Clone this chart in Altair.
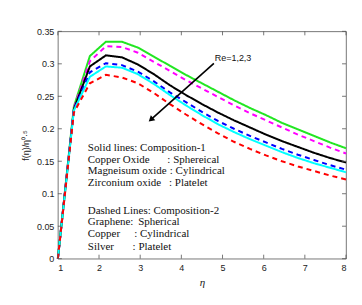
import altair as alt
import pandas as pd

eta = [1.0, 1.389, 1.778, 2.167, 2.556, 2.944, 3.333, 3.722, 4.111, 4.5,
       4.889, 5.278, 5.667, 6.056, 6.444, 6.833, 7.222, 7.611, 8.0]

green_solid = [0, 0.234, 0.312, 0.334, 0.334, 0.325, 0.311, 0.297, 0.283, 0.270,
               0.257, 0.244, 0.232, 0.221, 0.209, 0.199, 0.189, 0.179, 0.170]
magenta_dash = [0, 0.232, 0.304, 0.327, 0.326, 0.317, 0.303, 0.289, 0.275, 0.262,
                0.249, 0.236, 0.224, 0.213, 0.202, 0.191, 0.181, 0.171, 0.162]
black_solid = [0, 0.230, 0.296, 0.313, 0.310, 0.299, 0.284, 0.267, 0.252, 0.238,
               0.225, 0.213, 0.202, 0.191, 0.181, 0.172, 0.163, 0.155, 0.148]
blue_dash = [0, 0.229, 0.287, 0.301, 0.298, 0.288, 0.273, 0.256, 0.241, 0.226,
             0.212, 0.200, 0.189, 0.179, 0.169, 0.160, 0.152, 0.144, 0.137]
cyan_solid = [0, 0.228, 0.280, 0.296, 0.294, 0.284, 0.269, 0.252, 0.236, 0.221,
              0.207, 0.195, 0.184, 0.174, 0.164, 0.155, 0.147, 0.140, 0.133]
red_dash = [0, 0.225, 0.270, 0.283, 0.279, 0.270, 0.255, 0.238, 0.222, 0.207,
            0.193, 0.180, 0.169, 0.159, 0.150, 0.142, 0.135, 0.128, 0.122]

series = [
    ("green", green_solid, "#22e622", "solid"),
    ("magenta", magenta_dash, "#ff00ff", "dash"),
    ("black", black_solid, "#000000", "solid"),
    ("blue", blue_dash, "#0000ff", "dash"),
    ("cyan", cyan_solid, "#00ffff", "solid"),
    ("red", red_dash, "#ff0000", "dash"),
]

x_ticks = [1, 2, 3, 4, 5, 6, 7, 8]
y_ticks = [0, 0.05, 0.1, 0.15, 0.2, 0.25, 0.3, 0.35]

# annotation text (data coordinates)
left_texts = ["Solid lines:  Composition-1", "Copper Oxide", "Magneisum oxide", "Zirconium oxide",
              "Dashed Lines: Composition-2", "Graphene:", "Copper", "Silver"]
left_y = [0.1711, 0.1523, 0.1343, 0.1165, 0.0740, 0.0561, 0.0373, 0.0178]
left_x = 1.727
right_texts = [": Sphereical", ": Cylindrical", ": Platelet", "Spherical", ": Cylindrical", ": Platelet"]
right_x = [3.66, 3.72, 3.70, 2.952, 2.855, 2.816]
right_y = [0.1523, 0.1343, 0.1165, 0.0561, 0.0373, 0.0178]

arrow_x = [4.79, 3.26]
arrow_y = [0.3006, 0.2140]
re_label = "Re=1,2,3"
re_x, re_y = 4.81, 0.3097

W, H = 289, 228

xs = alt.Scale(domain=[1, 8], nice=False)
ys = alt.Scale(domain=[0, 0.35], nice=False)

rows = []
for name, vals, color, style in series:
    for e, v in zip(eta, vals):
        rows.append({"eta": e, "v": v, "name": name})
df = pd.DataFrame(rows)

x_axis = alt.Axis(values=x_ticks, tickSize=0, domain=False, grid=False, labelFontSize=9,
                  labelFont="Liberation Sans", labelColor="#222", labelPadding=5,
                  labelOverlap=False,
                  title="η", titleFont="Liberation Serif", titleFontStyle="italic",
                  titleFontWeight="normal", titleFontSize=11, titlePadding=4, titleColor="#222")
y_axis = alt.Axis(values=y_ticks, tickSize=0, domain=False, grid=False, labelFontSize=9,
                  labelFont="Liberation Sans", labelColor="#222", labelPadding=4,
                  labelOverlap=False, labelBound=False,
                  title="f(η)/η⁰·⁵", titleFont="Liberation Sans",
                  titleFontWeight="normal", titleFontSize=9, titlePadding=6, titleColor="#222",
                  labelExpr="datum.value == 0 ? '0' : format(datum.value, '.3~g')")


def X(field):
    return alt.X(field, scale=xs, axis=x_axis, title="η")


def Y(field):
    return alt.Y(field, scale=ys, axis=y_axis, title="f(η)/η⁰·⁵")


layers = []
for i, (name, vals, color, style) in enumerate(series):
    d = df[df["name"] == name]
    mk = alt.Chart(d).mark_line(color=color, strokeWidth=2,
                                strokeDash=[5, 4] if style == "dash" else [1, 0])
    layers.append(mk.encode(x=X("eta:Q"), y=Y("v:Q")))

# inward ticks
xt = pd.DataFrame({"t": x_ticks})
yt = pd.DataFrame({"t": y_ticks})
tick_color = "#555"
layers.append(alt.Chart(xt).mark_rule(color=tick_color, strokeWidth=0.8).encode(
    x=X("t:Q"), y=alt.value(H), y2=alt.value(H - 4)))
layers.append(alt.Chart(xt).mark_rule(color=tick_color, strokeWidth=0.8).encode(
    x=X("t:Q"), y=alt.value(0), y2=alt.value(4)))
layers.append(alt.Chart(yt).mark_rule(color=tick_color, strokeWidth=0.8).encode(
    y=Y("t:Q"), x=alt.value(0), x2=alt.value(4)))
layers.append(alt.Chart(yt).mark_rule(color=tick_color, strokeWidth=0.8).encode(
    y=Y("t:Q"), x=alt.value(W), x2=alt.value(W - 4)))

# arrow
adf = pd.DataFrame({"x": arrow_x, "y": arrow_y})
layers.append(alt.Chart(adf).mark_line(color="black", strokeWidth=1.6).encode(
    x=X("x:Q"), y=Y("y:Q")))
hdf = pd.DataFrame({"x": [arrow_x[1]], "y": [arrow_y[1]]})
layers.append(alt.Chart(hdf).mark_point(shape="triangle-up", filled=True, color="black",
                                        size=45, angle=228, opacity=1).encode(
    x=X("x:Q"), y=Y("y:Q")))

# Re label
rdf = pd.DataFrame({"x": [re_x], "y": [re_y], "t": [re_label]})
layers.append(alt.Chart(rdf).mark_text(align="left", baseline="middle", font="Liberation Sans",
                                       fontSize=9, color="#111").encode(
    x=X("x:Q"), y=Y("y:Q"), text="t:N"))

ldf = pd.DataFrame({"x": [left_x] * len(left_texts), "y": left_y, "t": left_texts})
layers.append(alt.Chart(ldf).mark_text(align="left", baseline="middle", font="Liberation Serif",
                                       fontSize=11, color="#111").encode(
    x=X("x:Q"), y=Y("y:Q"), text="t:N"))
rdf2 = pd.DataFrame({"x": right_x, "y": right_y, "t": right_texts})
layers.append(alt.Chart(rdf2).mark_text(align="left", baseline="middle", font="Liberation Serif",
                                        fontSize=11, color="#111").encode(
    x=X("x:Q"), y=Y("y:Q"), text="t:N"))

chart = alt.layer(*layers).properties(
    width=W, height=H,
    autosize=alt.AutoSizeParams(type="none"),
    padding={"left": 50, "top": 23, "right": 8, "bottom": 30},
    background="white",
).configure_view(stroke="#555", strokeWidth=0.8)

chart.save("out.html", embed_options={"renderer": "svg", "actions": False})
